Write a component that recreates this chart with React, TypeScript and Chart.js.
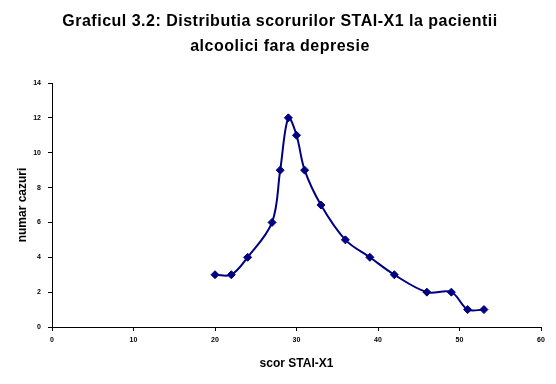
import React, { useEffect, useRef } from "react";
import { Chart, registerables } from "chart.js";

Chart.register(...registerables);

const titleLines = ["Graficul 3.2: Distributia scorurilor STAI-X1 la pacientii", "alcoolici fara depresie"];
const xTitle = "scor STAI-X1";
const yTitle = "numar cazuri";
const scores = [20, 22, 24, 27, 28, 29, 30, 31, 33, 36, 39, 42, 46, 49, 51, 53];
const counts = [3, 3, 4, 6, 9, 12, 11, 9, 7, 5, 4, 3, 2, 2, 1, 1];
const xMin = 0, xMax = 60, xStep = 10;
const yMin = 0, yMax = 14, yStep = 2;

const NAVY = "#000080";
const FONT = "'Liberation Sans', Arial, sans-serif";

const spacedTitle = {
  id: "spacedTitle",
  afterDraw(chart: any) {
    const ctx = chart.ctx as CanvasRenderingContext2D;
    ctx.save();
    ctx.font = `bold 16px ${FONT}`;
    (ctx as any).letterSpacing = "0.5px";
    ctx.fillStyle = "#000";
    ctx.textAlign = "center";
    ctx.textBaseline = "middle";
    const cx = 280;
    titleLines.forEach((line, i) => {
      ctx.fillText(line, cx, 22 + i * 25);
    });
    ctx.restore();
  },
};

export default function App() {
  const ref = useRef<HTMLCanvasElement | null>(null);
  useEffect(() => {
    if (!ref.current) return;
    const chart = new Chart(ref.current, {
      type: "line",
      data: {
        datasets: [
          {
            data: scores.map((s, i) => ({ x: s, y: counts[i] })),
            borderColor: NAVY,
            backgroundColor: NAVY,
            borderWidth: 2,
            pointStyle: "rectRot",
            pointRadius: 4,
            pointBackgroundColor: NAVY,
            pointBorderColor: NAVY,
            pointBorderWidth: 1,
            tension: 0.35,
            fill: false,
          },
        ],
      },
      options: {
        animation: false,
        responsive: false,
        maintainAspectRatio: false,
        layout: { padding: { left: 0, right: 15, top: 83, bottom: 0 } },
        plugins: {
          legend: { display: false },
          tooltip: { enabled: false },
          title: { display: false },
        },
        scales: {
          x: {
            type: "linear",
            min: xMin,
            max: xMax,
            afterFit: (s: any) => {
              s.height = 57;
            },
            ticks: {
              stepSize: xStep,
              color: "#000",
              font: { family: FONT, size: 7, weight: "bold" },
              padding: 5,
              maxRotation: 0,
            },
            grid: { drawOnChartArea: false, color: "#000", tickLength: 4, tickColor: "#000" },
            border: { color: "#000", width: 1 },
            title: {
              display: true,
              text: xTitle,
              color: "#000",
              font: { family: FONT, size: 12, weight: "bold" },
              padding: { top: 0, bottom: 12.8 },
            },
          },
          y: {
            type: "linear",
            min: yMin,
            max: yMax,
            afterFit: (s: any) => {
              s.width = 52;
            },
            ticks: {
              stepSize: yStep,
              color: "#000",
              font: { family: FONT, size: 7, weight: "bold" },
              padding: 7,
            },
            grid: { drawOnChartArea: false, color: "#000", tickLength: 4, tickColor: "#000" },
            border: { color: "#000", width: 1 },
            title: {
              display: true,
              text: yTitle,
              color: "#000",
              font: { family: FONT, size: 12, weight: "bold" },
              padding: { top: 15.5, bottom: 0 },
            },
          },
        },
      },
      plugins: [spacedTitle],
    });
    return () => chart.destroy();
  }, []);
  return (
    <div style={{ position: "absolute", left: 0, top: 0, width: 556, height: 384, background: "#fff" }}>
      <canvas ref={ref} width={556} height={384} style={{ display: "block", width: 556, height: 384 }} />
    </div>
  );
}
